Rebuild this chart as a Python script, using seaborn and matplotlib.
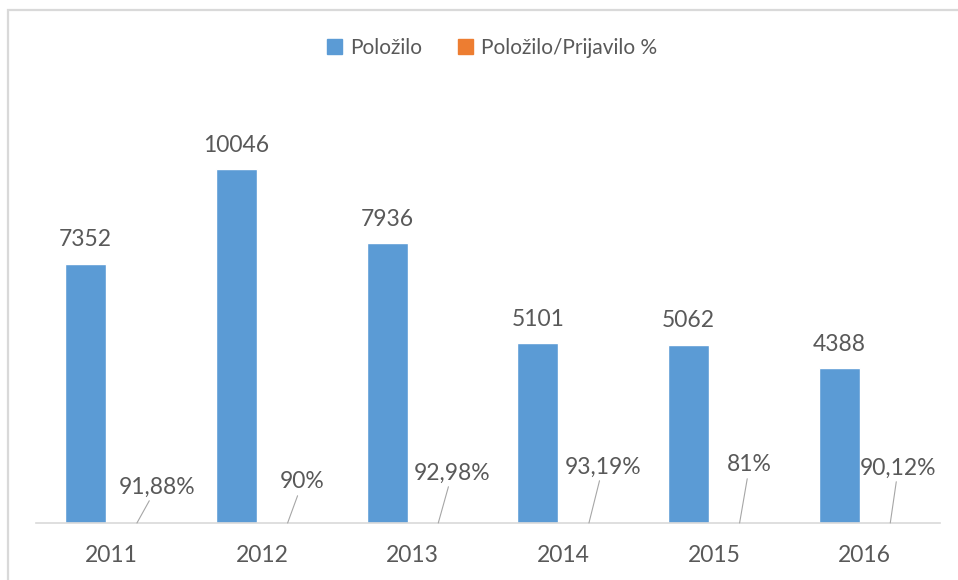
import matplotlib
matplotlib.use("Agg")
import matplotlib.pyplot as plt
import matplotlib.patches as mpatches
import seaborn as sns
import pandas as pd

# Data
years = ["2011", "2012", "2013", "2014", "2015", "2016"]
polozilo = [7352, 10046, 7936, 5101, 5062, 4388]
polozilo_prijavilo = [0.9188, 0.90, 0.9298, 0.9319, 0.81, 0.9012]
series_names = ["Položilo", "Položilo/Prijavilo %"]

# Placement of the percentage labels (pixel offsets from the bar top)
pct_label_offsets = [(20, 36), (15, 41), (14, 50), (14, 56), (10, 58), (8, 55)]

BLUE = "#5b9bd5"
ORANGE = "#ed7d31"
TEXT = "#595959"
GRID = "#d9d9d9"

sns.set_theme(style="white")
plt.rcParams["font.family"] = ["Lato", "DejaVu Sans"]

df = pd.DataFrame({
    "Godina": years * 2,
    "value": polozilo + polozilo_prijavilo,
    "series": [series_names[0]] * len(years) + [series_names[1]] * len(years),
})

W, H = 958, 580
fig = plt.figure(figsize=(W / 100, H / 100), dpi=100)
ax = fig.add_axes([36 / W, (H - 523) / H, (940 - 36) / W, (523 - 100) / H])

sns.barplot(data=df, x="Godina", y="value", hue="series",
            palette=[BLUE, ORANGE], width=0.68, gap=0.2,
            saturation=1, ax=ax, legend=False)

ax.set_ylim(0, 12000)
ax.set_xlim(-0.5, len(years) - 0.5)
ax.set_xlabel("")
ax.set_ylabel("")
ax.set_yticks([])
for side in ("left", "right", "top"):
    ax.spines[side].set_visible(False)
ax.spines["bottom"].set_color(GRID)
ax.spines["bottom"].set_linewidth(1.2)
ax.tick_params(axis="x", length=0, pad=16, labelsize=16.5, labelcolor=TEXT)

# Value labels on the count bars
for bar, v in zip(ax.containers[0], polozilo):
    ax.annotate(f"{v}", xy=(bar.get_x() + bar.get_width() / 2, bar.get_height()),
                xytext=(0, 12.5), textcoords="offset points",
                ha="center", va="baseline", fontsize=16.5, color=TEXT)

# Percentage labels with leader lines
for bar, v, (dx, dy) in zip(ax.containers[1], polozilo_prijavilo, pct_label_offsets):
    txt = f"{round(v * 100, 2):g}".replace(".", ",") + "%"
    ax.annotate(txt, xy=(bar.get_x() + bar.get_width() / 2, bar.get_height()),
                xytext=(dx * 0.72, dy * 0.72), textcoords="offset points",
                ha="center", va="center", fontsize=16.5, color=TEXT,
                arrowprops=dict(arrowstyle="-", color="#a6a6a6", lw=0.8,
                                shrinkA=0, shrinkB=0))

# Legend
handles = [mpatches.Patch(color=BLUE, label=series_names[0]),
           mpatches.Patch(color=ORANGE, label=series_names[1])]
fig.legend(handles=handles, loc="center", bbox_to_anchor=(492 / W, 1 - 48 / H),
           ncol=2, frameon=False, fontsize=15, handlelength=0.72,
           handleheight=0.72, handletextpad=0.4, columnspacing=1.7,
           labelcolor=TEXT)

# Chart area border
fig.patches.append(mpatches.Rectangle((8 / W, -0.05), (W + 10) / W, 1.05 - 10 / H,
                                      transform=fig.transFigure, fill=False,
                                      edgecolor=GRID, linewidth=1.6))

fig.savefig("out.png", dpi=100)
